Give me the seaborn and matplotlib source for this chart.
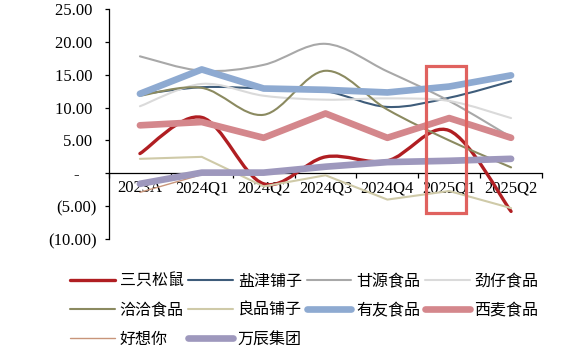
import numpy as np
import pandas as pd
import matplotlib
matplotlib.use("Agg")
import matplotlib.pyplot as plt
import seaborn as sns
from matplotlib.path import Path
from matplotlib.patches import PathPatch, Rectangle
from matplotlib.lines import Line2D

categories = ['2023A', '2024Q1', '2024Q2', '2024Q3', '2024Q4', '2025Q1', '2025Q2']

s_sanzhi = [3.0, 8.5, -1.6, 2.5, 1.9, 6.5, -5.8]
s_yanjin = [12.0, 13.1, 12.9, 12.5, 10.1, 11.5, 14.0]
s_ganyuan = [17.8, 15.6, 16.5, 19.7, 15.5, 11.0, 5.5]
s_jinzai = [10.2, 13.6, 11.8, 11.2, 11.4, 11.0, 8.4]
s_qiaqia = [11.8, 13.0, 8.9, 15.6, 9.7, 5.0, 0.9]
s_liangpin = [2.2, 2.5, -2.0, -0.3, -4.0, -2.7, -5.3]
s_youyou = [12.1, 15.8, 12.9, 12.7, 12.3, 13.2, 14.9]
s_ximai = [7.3, 7.8, 5.4, 9.1, 5.4, 8.4, 5.4]
s_haoxiangni = [-2.9, -0.2, 0.1, 1.0, 1.6, 1.8, 2.0]
s_wanchen = [-1.6, 0.1, 0.1, 1.0, 1.7, 1.9, 2.2]

y_ticks = [25, 20, 15, 10, 5, 0, -5, -10]
y_tick_labels = ['25.00 ', '20.00 ', '15.00 ', '10.00 ', '5.00 ', '-    ', '(5.00)', '(10.00)']

# name, values, color, linewidth, smooth
series = [
    ('三只松鼠', s_sanzhi, '#b01e22', 2.4, True),
    ('盐津铺子', s_yanjin, '#3e5c7a', 1.5, True),
    ('甘源食品', s_ganyuan, '#a8a8a8', 1.5, True),
    ('劲仔食品', s_jinzai, '#dadada', 1.5, True),
    ('洽洽食品', s_qiaqia, '#8b8a60', 1.5, True),
    ('良品铺子', s_liangpin, '#cfcaa8', 1.5, False),
    ('有友食品', s_youyou, '#8eaad1', 4.8, False),
    ('西麦食品', s_ximai, '#d4878c', 4.8, False),
    ('好想你', s_haoxiangni, '#c8957a', 1.0, False),
    ('万辰集团', s_wanchen, '#9e98bd', 4.8, False),
]

sns.set_theme(style='white')
plt.rcParams['font.family'] = ['Liberation Serif', 'DejaVu Sans']

fig = plt.figure(figsize=(5.75, 3.51), dpi=100)
ax = fig.add_axes([109 / 575, 1 - 239 / 351, (542 - 109) / 575, (239 - 9) / 351])

x_idx = np.arange(len(categories))


def smooth_path(xs, ys):
    pts = np.column_stack([xs, ys]).astype(float)
    n = len(pts)
    verts = [pts[0]]
    codes = [Path.MOVETO]
    for i in range(n - 1):
        p0 = pts[i - 1] if i > 0 else pts[i]
        p1 = pts[i]
        p2 = pts[i + 1]
        p3 = pts[i + 2] if i + 2 < n else pts[i + 1]
        c1 = p1 + (p2 - p0) / 6.0
        c2 = p2 - (p3 - p1) / 6.0
        verts += [c1, c2, p2]
        codes += [Path.CURVE4] * 3
    return Path(verts, codes)


handles = []
for z, (name, vals, color, lw, smooth) in enumerate(series):
    if smooth:
        patch = PathPatch(smooth_path(x_idx, vals), facecolor='none', edgecolor=color,
                          lw=lw, capstyle='round', joinstyle='round', zorder=2 + z)
        ax.add_patch(patch)
    else:
        df = pd.DataFrame({'x': x_idx, 'y': vals})
        sns.lineplot(data=df, x='x', y='y', ax=ax, color=color, lw=lw, legend=False,
                     zorder=2 + z, solid_capstyle='round', solid_joinstyle='round')
    handles.append(Line2D([0], [0], color=color, lw=lw, solid_capstyle='round'))

# highlight box around 2025Q1
ax.add_patch(Rectangle((4.63, -6.0), 0.64, 22.4, facecolor='none', edgecolor='#e0625f',
                       lw=2.3, zorder=20, clip_on=False))

ax.set_xlim(-0.5, len(categories) - 0.5)
ax.set_ylim(-10, 25)
ax.set_xlabel('')
ax.set_ylabel('')
ax.grid(False)

for side in ['top', 'right']:
    ax.spines[side].set_visible(False)
ax.spines['left'].set_color('black')
ax.spines['left'].set_linewidth(0.9)
ax.spines['bottom'].set_position(('data', 0))
ax.spines['bottom'].set_color('black')
ax.spines['bottom'].set_linewidth(0.9)
ax.spines['bottom'].set_zorder(1)

ax.set_yticks(y_ticks)
ax.set_yticklabels(y_tick_labels)
ax.tick_params(axis='y', direction='out', length=3, width=0.9, color='black', pad=6,
               labelsize=12, left=True)

ax.set_xticks(x_idx)
ax.set_xticklabels(categories)
ax.tick_params(axis='x', which='major', length=0, pad=5, labelsize=12, bottom=True)
ax.set_xticks(np.arange(-0.5, len(categories), 1.0), minor=True)
ax.tick_params(axis='x', which='minor', direction='out', length=3.5, width=0.9,
               color='black', bottom=True)
for lbl in ax.get_xticklabels() + ax.get_yticklabels():
    lbl.set_color('black')

# matplotlib fills legend columns first; reorder so entries read row by row
order = [0, 4, 8, 1, 5, 9, 2, 6, 3, 7]
leg = fig.legend([handles[i] for i in order], [series[i][0] for i in order], ncol=4,
                 loc='upper left', bbox_to_anchor=(70 / 575, 1 - 273 / 351), frameon=False,
                 prop={'family': ['Noto Sans CJK SC', 'DejaVu Sans'], 'size': 11.5},
                 handlelength=2.8, handletextpad=0.3, columnspacing=0.3,
                 labelspacing=0.75, borderpad=0, borderaxespad=0)
for t in leg.get_texts():
    t.set_color('black')

fig.savefig('out.png', dpi=100)
